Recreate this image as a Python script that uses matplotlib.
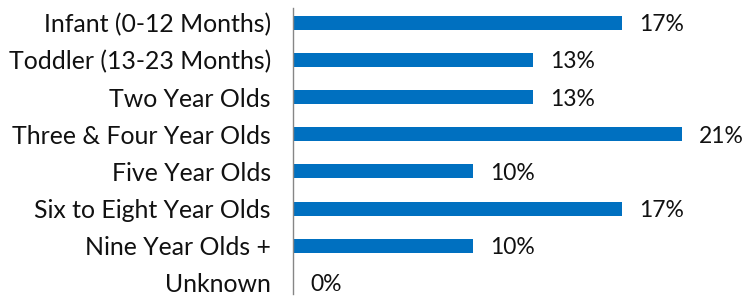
import matplotlib
matplotlib.use("Agg")
import matplotlib.pyplot as plt

categories = ["Infant (0-12 Months)", "Toddler (13-23 Months)", "Two Year Olds",
              "Three & Four Year Olds", "Five Year Olds", "Six to Eight Year Olds",
              "Nine Year Olds +", "Unknown"]
values = [17.46, 12.70, 12.70, 20.63, 9.52, 17.46, 9.52, 0.0]
labels = ["17%", "13%", "13%", "21%", "10%", "17%", "10%", "0%"]

plt.rcParams["font.family"] = ["Lato", "DejaVu Sans"]

W, H = 744, 299
fig = plt.figure(figsize=(W / 100, H / 100), dpi=100)
ax = fig.add_axes([293 / W, 5 / H, (W - 293) / W, 286 / H])

y = range(len(categories))
ax.barh(y, values, height=0.38, color="#0070C0")
for yi, v, lab in zip(y, values, labels):
    ax.text(v + 0.9, yi + 0.05, lab, va="center", ha="left", fontsize=16.5, color="#111111")

ax.set_yticks(list(y))
ax.set_yticklabels(categories, fontsize=17.9, color="#111111")
ax.tick_params(axis="y", length=0, pad=16)
ax.set_xticks([])
ax.set_xlim(0, 23.9)
ax.set_ylim(7.3, -0.4)
for s in ["top", "right", "bottom"]:
    ax.spines[s].set_visible(False)
ax.spines["left"].set_color("#868686")
ax.spines["left"].set_linewidth(1)

fig.savefig("out.png", dpi=100)
